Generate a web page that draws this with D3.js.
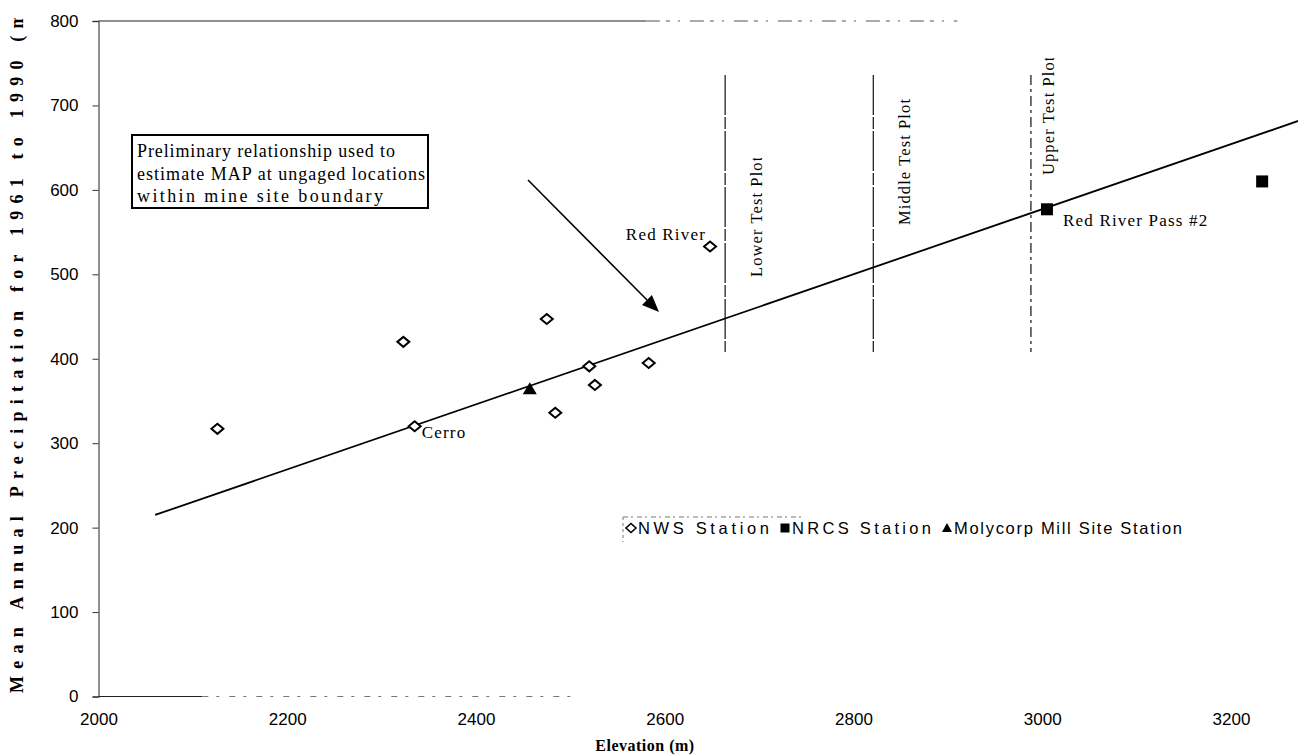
<!DOCTYPE html>
<html>
<head>
<meta charset="utf-8">
<script src="https://cdn.jsdelivr.net/npm/d3@7"></script>
<style>
  html, body { margin: 0; padding: 0; background: #fff; }
  svg { display: block; }
  .tick text { font-family: "Liberation Sans", Arial, sans-serif; font-size: 17px; fill: #000; }
</style>
</head>
<body>
<svg id="chart" width="1298" height="756"></svg>
<script>
// Elevation (m) and mean annual precipitation (mm) per station group
const nwsElev   = [2126, 2323, 2335, 2475, 2484, 2520, 2526, 2583, 2648];
const nwsPrecip = [317, 420, 320, 447, 336, 391, 369, 395, 533];
const nrcsElev   = [3005, 3233];
const nrcsPrecip = [577, 610];
const millElev   = [2457];
const millPrecip = [364];

// Fitted relationship, two end points [elevation, precipitation]
const fitLine = [[2060, 215], [3280, 685]];

// Test plot elevations and their labels
const plotElev   = [2664, 2821, 2988];
const plotLabels = ["Lower Test Plot", "Middle Test Plot", "Upper Test Plot"];

// Named station labels
const stationNotes = [
  { name: "Cerro", elev: 2335, precip: 320 },
  { name: "Red River", elev: 2648, precip: 533 },
  { name: "Red River Pass #2", elev: 3005, precip: 577 }
];

const xTicks = [2000, 2200, 2400, 2600, 2800, 3000, 3200];
const yTicks = [0, 100, 200, 300, 400, 500, 600, 700, 800];

const noteLines = [
  "Preliminary relationship used to",
  "estimate MAP at ungaged locations",
  "within mine site boundary"
];
const legendItems = ["NWS Station", "NRCS Station", "Molycorp Mill Site Station"];

const serif = '"Liberation Serif", "Times New Roman", serif';
const sans  = '"Liberation Sans", Arial, sans-serif';

const svg = d3.select("#chart");
const defs = svg.append("defs");
const x = d3.scaleLinear().domain([2000, 3200]).range([98.5, 1231]);
const y = d3.scaleLinear().domain([0, 800]).range([696.5, 21]);

// plot clip (the plot area runs past the right edge of the page)
defs.append("clipPath").attr("id", "plotClip")
  .append("rect").attr("x", 98.5).attr("y", 21).attr("width", 1300).attr("height", 676);

// top frame line, fading out towards the right
svg.append("line").attr("x1", x(2000)).attr("x2", x(2580)).attr("y1", y(800)).attr("y2", y(800))
  .attr("stroke", "#222").attr("stroke-width", 1.2);
svg.append("line").attr("x1", x(2580)).attr("x2", x(2910)).attr("y1", y(800)).attr("y2", y(800))
  .attr("stroke", "#555").attr("stroke-width", 1).attr("stroke-dasharray", "14 6 4 8 2 10");

// y axis
const yAxis = svg.append("g").attr("transform", `translate(${x(2000)},0)`)
  .call(d3.axisLeft(y).tickValues(yTicks).tickSize(6).tickPadding(14).tickFormat(d3.format("d")));
yAxis.select(".domain").attr("stroke", "#555").attr("stroke-width", 1.3);
yAxis.selectAll(".tick line").attr("stroke", "#333");

// x axis
const xAxis = svg.append("g").attr("transform", `translate(0,${y(0)})`)
  .call(d3.axisBottom(x).tickValues(xTicks).tickSize(0).tickPadding(16).tickFormat(d3.format("d")));
xAxis.select(".domain").remove();
svg.append("line").attr("x1", x(2000)).attr("x2", x(2110)).attr("y1", y(0)).attr("y2", y(0))
  .attr("stroke", "#222").attr("stroke-width", 1.2);
svg.append("line").attr("x1", x(2110)).attr("x2", x(2500)).attr("y1", y(0)).attr("y2", y(0))
  .attr("stroke", "#777").attr("stroke-width", 1).attr("stroke-dasharray", "6 8 3 10");

// axis titles
defs.append("clipPath").attr("id", "yTitleClip")
  .append("rect").attr("x", 0).attr("y", 18).attr("width", 40).attr("height", 700);
svg.append("g").attr("clip-path", "url(#yTitleClip)")
  .append("text")
  .attr("transform", "translate(23,693) rotate(-90)")
  .attr("text-anchor", "start")
  .attr("font-family", serif).attr("font-weight", "bold").attr("font-size", 18)
  .attr("textLength", 715).attr("lengthAdjust", "spacing")
  .text("Mean Annual Precipitation for 1961 to 1990 (mm)");
svg.append("text")
  .attr("x", 645).attr("y", 751)
  .attr("text-anchor", "middle")
  .attr("font-family", serif).attr("font-weight", "bold").attr("font-size", 16)
  .attr("letter-spacing", 0.5)
  .text("Elevation (m)");

const plot = svg.append("g").attr("clip-path", "url(#plotClip)");

// test plot markers
plot.selectAll("line.testplot").data(plotElev).join("line").attr("class", "testplot")
  .attr("x1", d => x(d)).attr("x2", d => x(d))
  .attr("y1", y(736)).attr("y2", y(408))
  .attr("stroke", "#222").attr("stroke-width", 1.3)
  .attr("stroke-dasharray", (d, i) => i === 2 ? "10 4 3 4" : "40 2 12 2");

const labelOffset = [37, 37, 23];
const labelBase = [277, 225, 175];
const labelTop = [158, 98, 58];
plotElev.forEach((d, i) => {
  defs.append("clipPath").attr("id", "tpclip" + i)
    .append("rect").attr("x", x(d) + 5).attr("width", 40)
    .attr("y", labelTop[i]).attr("height", 300);
  svg.append("g").attr("clip-path", `url(#tpclip${i})`)
    .append("text")
    .attr("transform", `translate(${x(d) + labelOffset[i]},${labelBase[i]}) rotate(-90)`)
    .attr("font-family", serif).attr("font-size", 16.5).attr("letter-spacing", 1.1)
    .text(plotLabels[i]);
});

// fitted relationship
plot.append("line")
  .attr("x1", x(fitLine[0][0])).attr("y1", y(fitLine[0][1]))
  .attr("x2", x(fitLine[1][0])).attr("y2", y(fitLine[1][1]))
  .attr("stroke", "#000").attr("stroke-width", 1.8);

// NWS stations: open diamonds
const nws = nwsElev.map((e, i) => ({ e, p: nwsPrecip[i] }));
const diamond = "M0,-5L6,0L0,5L-6,0Z";
plot.selectAll("path.nws").data(nws).join("path").attr("class", "nws")
  .attr("transform", d => `translate(${x(d.e)},${y(d.p)})`)
  .attr("d", diamond).attr("fill", "#fff").attr("stroke", "#000").attr("stroke-width", 2);

// NRCS stations: filled squares
const nrcs = nrcsElev.map((e, i) => ({ e, p: nrcsPrecip[i] }));
plot.selectAll("rect.nrcs").data(nrcs).join("rect").attr("class", "nrcs")
  .attr("x", d => x(d.e) - 6).attr("y", d => y(d.p) - 6)
  .attr("width", 12).attr("height", 12).attr("fill", "#000");

// Molycorp mill site: filled triangle
const mill = millElev.map((e, i) => ({ e, p: millPrecip[i] }));
plot.selectAll("path.mill").data(mill).join("path").attr("class", "mill")
  .attr("transform", d => `translate(${x(d.e)},${y(d.p)})`)
  .attr("d", "M0,-7L7,5L-7,5Z").attr("fill", "#000");

// station names
const notePos = {
  "Cerro": { dx: 7, dy: 12, anchor: "start" },
  "Red River": { dx: -4, dy: -6, anchor: "end" },
  "Red River Pass #2": { dx: 16, dy: 17, anchor: "start" }
};
plot.selectAll("text.station").data(stationNotes).join("text").attr("class", "station")
  .attr("x", d => x(d.elev) + notePos[d.name].dx)
  .attr("y", d => y(d.precip) + notePos[d.name].dy)
  .attr("text-anchor", d => notePos[d.name].anchor)
  .attr("font-family", serif).attr("font-size", 17).attr("letter-spacing", 1.2)
  .text(d => d.name);

// annotation box and arrow
svg.append("rect").attr("x", 132).attr("y", 135).attr("width", 296).attr("height", 73)
  .attr("fill", "#fff").attr("stroke", "#000").attr("stroke-width", 2);
const noteWidths = [258, 288, 246];
svg.append("g").selectAll("text").data(noteLines).join("text")
  .attr("x", 137).attr("y", (d, i) => 157 + i * 22.5)
  .attr("font-family", serif).attr("font-size", 18)
  .attr("textLength", (d, i) => noteWidths[i]).attr("lengthAdjust", "spacing")
  .text(d => d);

svg.append("line").attr("x1", 528).attr("y1", 180).attr("x2", 650).attr("y2", 303)
  .attr("stroke", "#000").attr("stroke-width", 1.6);
svg.append("path")
  .attr("transform", "translate(659,312) rotate(45)")
  .attr("d", "M0,0L-17,-7L-17,7Z").attr("fill", "#000");

// legend
const lg = svg.append("g").attr("transform", "translate(623,528)");
lg.append("line").attr("x1", 0).attr("x2", 180).attr("y1", -11).attr("y2", -11)
  .attr("stroke", "#777").attr("stroke-width", 1).attr("stroke-dasharray", "5 3 2 4");
lg.append("line").attr("x1", 0).attr("x2", 0).attr("y1", -11).attr("y2", 14)
  .attr("stroke", "#777").attr("stroke-width", 1).attr("stroke-dasharray", "3 3");
const legendX = [8, 162, 324];
const legendW = [131, 139, 228];
lg.selectAll("g.item").data(legendItems).join("g").attr("class", "item")
  .attr("transform", (d, i) => `translate(${legendX[i]},0)`)
  .each(function (d, i) {
    const g = d3.select(this);
    if (i === 0) g.append("path").attr("d", "M0,-4.5L5,0L0,4.5L-5,0Z").attr("fill", "#fff").attr("stroke", "#000").attr("stroke-width", 1.6);
    if (i === 1) g.append("rect").attr("x", -4.5).attr("y", -4.5).attr("width", 9).attr("height", 9).attr("fill", "#000");
    if (i === 2) g.append("path").attr("d", "M0,-5L5,4L-5,4Z").attr("fill", "#000");
    g.append("text").attr("x", 7).attr("y", 6)
      .attr("font-family", sans).attr("font-size", 16.5)
      .attr("textLength", legendW[i]).attr("lengthAdjust", "spacing")
      .text(d);
  });
</script>
</body>
</html>
